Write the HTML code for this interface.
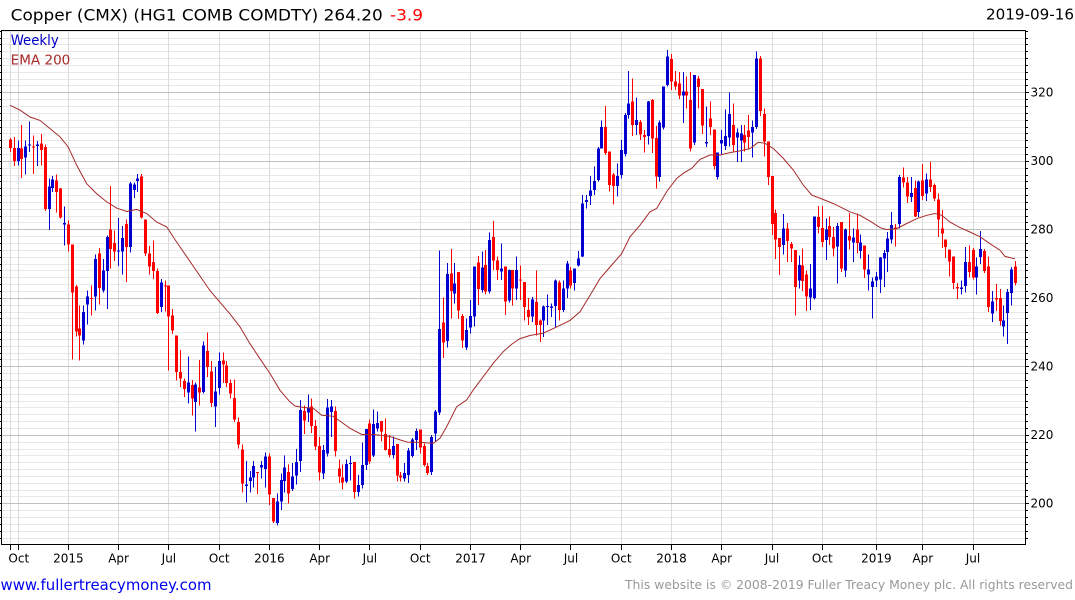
<!DOCTYPE html>
<html><head><meta charset="utf-8"><style>
html,body{margin:0;padding:0;background:#fff;width:1075px;height:600px;overflow:hidden}
svg{display:block}
text{font-family:"DejaVu Sans","Liberation Sans",sans-serif}
</style></head><body>
<svg id="c" width="1075" height="600" viewBox="0 0 1075 600" xmlns="http://www.w3.org/2000/svg">
<rect x="0" y="0" width="1075" height="600" fill="#fff"/>
<g id="grid" shape-rendering="crispEdges"></g>
<g id="cand" shape-rendering="crispEdges"></g>
<g id="ema"></g>
<g id="axes" shape-rendering="crispEdges"></g>
<text x="10.7" y="20.5" font-size="16" textLength="372" lengthAdjust="spacingAndGlyphs" fill="#000">Copper (CMX) (HG1 COMB COMDTY) 264.20</text>
<text x="390" y="20.5" font-size="16" textLength="33" lengthAdjust="spacingAndGlyphs" fill="#ff0000">-3.9</text>
<text x="986" y="19.5" font-size="15" textLength="88" lengthAdjust="spacingAndGlyphs" fill="#000">2019-09-16</text>
<text x="10.7" y="45" font-size="14" textLength="48" lengthAdjust="spacingAndGlyphs" fill="#0000cc">Weekly</text>
<text x="10.7" y="64.3" font-size="13.5" textLength="59.6" lengthAdjust="spacingAndGlyphs" fill="#a52a2a">EMA 200</text>
<g font-size="12" fill="#000">
<text x="1030.5" y="96.7">320</text>
<text x="1030.5" y="165.2">300</text>
<text x="1030.5" y="233.7">280</text>
<text x="1030.5" y="302.2">260</text>
<text x="1030.5" y="370.7">240</text>
<text x="1030.5" y="439.2">220</text>
<text x="1030.5" y="507.7">200</text>
</g>
<g font-size="12" fill="#000" text-anchor="middle">
<text x="18.8" y="562.7">Oct</text>
<text x="68.4" y="562.7">2015</text>
<text x="118.6" y="562.7">Apr</text>
<text x="168.9" y="562.7">Jul</text>
<text x="219.2" y="562.7">Oct</text>
<text x="269.4" y="562.7">2016</text>
<text x="319.7" y="562.7">Apr</text>
<text x="369.9" y="562.7">Jul</text>
<text x="420.2" y="562.7">Oct</text>
<text x="470.5" y="562.7">2017</text>
<text x="520.7" y="562.7">Apr</text>
<text x="571" y="562.7">Jul</text>
<text x="621.2" y="562.7">Oct</text>
<text x="671.5" y="562.7">2018</text>
<text x="721.7" y="562.7">Apr</text>
<text x="772" y="562.7">Jul</text>
<text x="822.3" y="562.7">Oct</text>
<text x="876.4" y="562.7">2019</text>
<text x="922.8" y="562.7">Apr</text>
<text x="973" y="562.7">Jul</text>
</g>
<text x="0.5" y="590" font-size="15" textLength="211" lengthAdjust="spacingAndGlyphs" fill="#0000ee">www.fullertreacymoney.com</text>
<text x="625" y="589" font-size="12" textLength="448" lengthAdjust="spacingAndGlyphs" fill="#999999">This website is © 2008-2019 Fuller Treacy Money plc. All rights reserved</text>
</svg>
<script>
(function(){
const D=[
[306.2,306.7,302.6,303.8],[303.8,307,298.5,300],[300,306,298.6,303.8],[303.6,310.4,295,300.5],[301,306,296,304.2],
[304.6,311.5,302.6,304.8],[304.2,307.4,296.1,304.0],[304.3,305.8,298.4,304.8],[305,307.8,298.7,303.1],[304,304.8,285.4,286],
[286,294.8,279.8,292.5],[292,295.6,290.9,294.5],[294.3,296,284.9,290.9],[291.9,292,283.1,283.4],[281.7,286.6,275.3,281.8],
[281.4,282.5,273.5,275.6],[275.6,275.6,242,261.6],[263.3,263.7,248.7,250.2],[251,257.8,241.7,249],[247.5,257.8,246.3,255.8],
[258,262.1,252.2,260.4],[260,263.6,254.8,259.6],[260.4,272.6,256.3,271.4],[273,274.5,258,262.9],[262.2,271.4,261.5,268],
[267.8,278.2,256.8,277.7],[279.9,292.6,268.5,274.3],[276,279.7,270.7,273.5],[273.6,283.3,269.3,273.8],[273.6,281,266.8,277.5],
[281.5,282.9,264.6,274.8],[274.8,293.8,273.2,293.3],[291.4,293.6,289.2,293.1],[294.1,296.1,290.9,294.8],[295.4,296.1,283.1,283.4],
[282.9,282.9,272.2,273],[273,275.1,266.8,269.1],[270.4,276.7,265.5,267.8],[267.8,268.5,255.3,255.6],[257.3,265.5,255.8,264.4],
[263.6,265,256,263.5],[263.6,263.6,238.8,254.6],[254.9,256.8,249.5,250.5],[249,249,235.9,238.3],[238.3,244.7,234,236.4],
[235.7,236.4,231,233.3],[232.3,242.9,229.1,235.2],[234.5,236,225.7,230.6],[229.6,235.2,220.9,234.7],[233.8,241.9,228.6,232.3],
[232.5,247.3,232,246.1],[244.4,249.8,236.9,239.8],[238.5,241.5,228.2,229.3],[228.2,239.8,222.3,232.7],[233.7,244,231.7,241.5],
[241.7,244,235.1,240.6],[240.3,241.5,234,235.1],[235.1,236.1,230.6,232],[230.8,236.1,223.8,224.5],[223.7,225,216,217.2],
[215.7,217.2,203.1,205.8],[205,212.3,200.2,205.5],[206.5,209.4,203.1,207.5],[207.5,212.3,204.6,210.9],[209.2,209.2,202.7,209],
[210.4,212.4,207.3,211.2],[210,214.9,204.6,213.6],[213.6,214.6,199.5,202.6],[201.5,201.5,194.2,194.7],[194.2,202.9,193.5,200.5],
[200.5,208.7,198.1,206.8],[206.5,213.9,203.1,210.4],[209.2,211.3,200,202.9],[204.2,211.7,203.6,207.8],[208.1,215.8,205.5,212],
[212.4,230.1,209.2,227.2],[227,228.6,220.2,224.1],[226.5,231.7,223.8,227.9],[228.2,230.6,220.6,222.5],[222.5,224.3,215.5,216.5],
[216.8,219.4,206.6,209],[208.7,217,207.1,215.5],[214.5,230.4,213.6,228],[226.7,230.1,219.4,228.2],[227,228.2,213.6,215.3],
[210.2,212.8,206,207.8],[207.5,211.4,204.1,206],[206.3,212.8,206,211.5],[211.5,213.8,206.6,211.8],[212,212,201.4,203.3],
[203.3,208.3,202,205.4],[205.4,217.7,204.4,211.2],[211.2,221.7,209.7,221.7],[223.3,224.5,211.5,212.2],[213.9,227.4,213.6,223.2],
[221.9,226.8,220.9,223.5],[224,224,218,220.9],[220.2,224.8,215.4,215.6],[215.9,220,213.4,214.1],[214.1,219.5,213.1,216.8],
[217.3,217.3,206.3,208.1],[208.1,209.2,206.3,207.5],[207.3,211.7,206.3,208.8],[208.3,216.1,206,215.4],[213.8,219,213.4,218.7],
[218.5,221.9,215.6,221.1],[221.6,221.6,214.6,216.3],[216.7,217.5,210.7,211.2],[210.9,211.7,208.3,208.8],[209.2,219.9,208.3,219.4],
[220.4,227.2,218,226.8],[226.5,273.8,225.8,250.9],[252.8,260.1,242.5,247],[247.4,270.2,245.5,266.9],[267.1,274.2,254,262],
[261.3,270.2,258.4,264.2],[267.5,267.5,253.8,256.3],[254.7,255.3,245.4,247.5],[245.5,254,244.8,250.6],[251.4,259.4,249.6,254.7],
[254.5,269.1,251.6,269.1],[270.3,272.2,257.9,262.5],[262.3,273.5,261.5,268.9],[269.6,274,261,261.8],[261.8,279,261.3,276.9],
[277.7,282.4,268.1,270.9],[270.9,272,265.2,268.1],[267.6,275.9,265.2,268.6],[269.1,269.1,255,258.9],[259.2,268.3,258.6,268.1],
[268.1,268.1,257.8,262.7],[262.7,272,259.4,268.1],[265.4,269.5,259.3,265.1],[264.6,264.6,253.4,257.3],[256.5,260,252,254.4],
[254.6,260.3,252.9,259.5],[258.8,268,249,252],[253.4,253.6,247.1,252],[253.4,257.8,248.6,257.5],[257.3,261,252,257.6],
[257,258.3,254.4,257.5],[257.6,265.3,251.3,265.1],[264.5,265.1,253.4,256.5],[256.5,265.1,255.9,262.7],[262.7,270.8,260,270],
[268,269,262.7,263.6],[264.3,268.5,262.2,268.5],[269.5,273.7,269.2,271.5],[272.1,290,271.9,287.5],[288,290,286.1,288.5],
[289.7,295.5,287.1,291.4],[291.4,298.3,290,294.1],[294.4,304.1,293.9,303.6],[303.6,311.7,303.6,309.8],[309.8,316,301.7,302.2],
[302.7,302.7,291,292.9],[296,296.5,287.3,292.7],[292.7,299.2,289.5,295.5],[295.8,306.1,294.9,303.1],[302,313.9,301.2,313.4],
[313.4,326.2,312.4,316.8],[317.3,324.1,307.3,310.4],[310.4,318.5,307.5,311.9],[311.4,311.9,306.1,307.7],[307.5,309,302.5,307],
[307.3,317.5,304.8,317.3],[317.8,318,302.2,306.5],[306.7,310.2,291.9,295.5],[295.3,311.7,293.9,311.2],[309.8,321.7,309.2,321.7],
[322.1,332.4,321.7,330.4],[329.7,331.2,320.7,323.1],[323.1,326.2,320.7,321.7],[322.6,326,318,319.1],[319.1,326,311,320.2],
[320.2,324.6,315.3,319],[317.8,326,302.7,303.6],[305.3,325.1,304.6,325.1],[324.1,324.8,315.3,321.5],[320.9,320.9,307.8,310.3],
[305,315.8,304.1,305.5],[312.4,317.3,307.5,309.8],[309.2,309.2,297.5,298.5],[295.3,302.4,294.6,302.4],[305.1,309,301.7,306.1],
[304.3,315,303.1,307.2],[306.8,319.9,304.1,313.7],[310.4,316.8,302.7,304.6],[306.8,309.5,299.7,308.3],[305.9,310.4,299.7,308],
[307.5,310.4,302.7,305.3],[308.8,313.4,303.3,307],[308.2,311.7,301,309.8],[309.8,331.9,309.2,329.9],[329.9,330.6,313.1,314.6],
[313.7,315.3,301.2,305.6],[305.6,305.6,292.9,295.3],[295.5,295.5,278.3,281.5],[284.8,285.8,271.3,277.1],[277.5,277.5,266.6,274.9],
[275.4,284.4,272.7,280.2],[280.2,281.9,270.5,276.6],[275.7,276.3,270.5,274.4],[273.9,273.9,254.9,263.2],[265,272.4,262.7,269.6],
[269.5,274.4,262,264.9],[266.8,268,256.2,260.4],[260.1,269.8,256.5,262.7],[260,283.8,259.5,283.8],[283.6,286.8,278.8,280.7],
[280.4,286.8,274.9,276.3],[276.8,283.2,271,279.9],[280.9,283.8,275.4,277.8],[277.8,280.7,272,274.4],[274.9,281.9,264.2,280.9],
[282.2,282.2,267.6,268.5],[268,280.2,266.1,279.9],[278.1,284.8,274.1,276.8],[276.1,280.2,270.5,277.6],[279.9,284.6,272.9,276],
[273.7,278.5,271.4,276.1],[275.3,275.3,265.8,268.2],[266.8,272.7,262.1,268.3],[263.1,266,254,264.8],[265.1,267.5,263.1,266.2],
[265.4,271.9,261.4,271.7],[271.4,273.9,263.1,273.1],[273.4,279.2,267.5,277.3],[277,285.1,275.8,281.2],[280.5,281.5,275,280.2],
[281.5,295.8,280.2,295.3],[295.1,298,292.2,293.6],[293.6,295.3,287.7,289.5],[289.5,295.3,288,290.6],[292.1,294.3,283.6,283.8],
[285.1,294.3,283.6,293.9],[294.3,299,288.5,289.7],[290.4,296.3,288.3,294.5],[294.5,299.7,290.9,292.4],[292.9,293.4,288.3,289],
[288.7,290.4,277.8,282.8],[280.2,285.6,274.6,278.7],[277,277,271.6,274.8],[274.1,274.1,266.2,270.6],[272.1,272.1,262.6,264.3],
[263.1,264.3,259.7,262.9],[262.5,265,261,263],[263.4,274.8,261.6,270.4],[270.4,275.3,266,267.5],[273.9,274.6,265.3,266],
[265.9,271.7,261,269.2],[271.9,279.5,269.8,274.3],[273.7,274.3,267.2,267.8],[269.2,272.1,255.8,257.3],[255.4,262,252.9,258.9],
[259.9,264.1,256.1,259.7],[259.9,262.6,251.9,253.2],[251.6,257.8,248.7,253.4],[255.5,262.6,246.5,261.7],[261.4,269,257.8,268.2],
[269.2,270.7,263.6,264.3]
];
const Y=v=>92.3+(320-v)*3.425;
const X=i=>10.4+3.866*i;
const r=v=>Math.round(v*10)/10;
let g='';
for(let v=190;v<=338;v+=2){ if(v%20===0) continue; const y=Math.round(Y(v))+0.5; if(y<31||y>544) continue; g+=`<line x1="2" x2="1025" y1="${y}" y2="${y}" stroke="#e8e8e8"/>`;}
const ticks=[0,2,15,28,41,54,67,80,93,106,119,132,145,158,171,184,197,210,224,236,249];
for(const i of ticks){const x=Math.floor(X(i))+0.5; g+=`<line x1="${x}" x2="${x}" y1="31" y2="544" stroke="#dadada"/>`;}
for(let v=200;v<=320;v+=20){const y=Math.round(Y(v))+0.5; g+=`<line x1="2" x2="1025" y1="${y}" y2="${y}" stroke="#c0c0c0"/>`;}
document.getElementById('grid').innerHTML=g;

let c='';
for(let i=0;i<D.length;i++){
  const [o,h,l,cl]=D[i]; const xi=Math.floor(X(i)); const col=cl>=o?'#0000d0':'#ff0000';
  const yh=Y(h), yl=Y(l);
  c+=`<rect x="${xi}" y="${r(yh)}" width="1" height="${r(Math.max(1,yl-yh))}" fill="${col}"/>`;
  const yt=Y(Math.max(o,cl)), yb=Y(Math.min(o,cl));
  c+=`<rect x="${xi-1}" y="${r(yt)}" width="3" height="${r(Math.max(1.2,yb-yt))}" fill="${col}"/>`;
}
document.getElementById('cand').innerHTML=c;

const E=[[10,316.2],[20,314.8],[30,312.8],[40,311.8],[50,309.4],[60,307],[68.3,304],[76.7,298.7],[86.7,293.3],[96.7,290.4],[106.7,288],[116.7,286.2],[126.7,285.2],[136.7,285.8],[146.7,284.6],[156.7,282.1],[166.7,280.7],[175,277],
[210,262.1],[220,258.7],[230,255.3],[240,251.5],[250,246.6],[260,242.2],[270,237.9],[280,233],[290,229.6],[295,228.4],[303.3,228],[313.3,227.7],[321.7,225.7],[333.3,225.4],[340,224],[350,221.9],[361.7,220.1],[373.3,220.1],[390,219.5],[400,218.5],[408.3,217.8],[420,217.8],[433.3,217.5],[440,219],[446.7,222.4],[456.7,228.2],[466.7,230.2],[473.3,233.1],[483.3,237],[493.3,240.9],[503.3,244.3],[512,246.5],
[520,248.1],[530,249],[543.3,249.7],[556.7,251.5],[570,253.4],[580,255.9],[590,260.7],[600,265.6],[610,269],[621.7,272.9],[630,277.8],[640,281.2],[650,285.1],[656.7,286.1],[666.7,291],[676.7,294.9],[684,296.5],
[691.7,297.8],[700,300.4],[710,301.7],[720,301.7],[730,302.4],[740,302.9],[750,303.6],[758.3,305.4],[765,305.1],[773.3,303.6],[783.3,300.7],[793.3,297.3],[803.3,292.9],[811.7,290],[823.3,288.7],[833.3,287.5],[843.3,286.1],[850,285.1],[860,284.1],[870,282.4],[880,280.5],[886.7,279.9],[896.7,280.2],[906.7,281.7],[916.7,283.1],[926.7,284.1],[935,284.6],[941.7,284.1],[950,282.1],[960,280.5],[970,279.2],[980,277.8],[990,275.8],[1000,273.9],[1005,272.1],[1015,271.4]];
document.getElementById('ema').innerHTML=`<polyline fill="none" stroke="#a52a2a" stroke-width="1" points="${E.map(p=>p[0]+','+r(Y(p[1]))).join(' ')}"/>`;

let a='';
a+=`<line x1="1" x2="1026" y1="30.5" y2="30.5" stroke="#000"/>`;
a+=`<line x1="1" x2="1026" y1="544.5" y2="544.5" stroke="#000"/>`;
a+=`<line x1="1.5" x2="1.5" y1="30" y2="545" stroke="#000"/>`;
a+=`<line x1="1025.5" x2="1025.5" y1="30" y2="545" stroke="#000"/>`;
for(let v=190;v<=338;v+=2){const y=Math.round(Y(v))+0.5; if(y<31||y>544) continue; const L=(v%20===0)?3:2;
  a+=`<line x1="1026" x2="${1026+L}" y1="${y}" y2="${y}" stroke="#000"/>`;
  a+=`<line x1="0" x2="2" y1="${y}" y2="${y}" stroke="#000"/>`;}
for(const i of ticks){const x=Math.floor(X(i))+0.5; a+=`<line x1="${x}" x2="${x}" y1="545" y2="550" stroke="#000"/>`;}
document.getElementById('axes').innerHTML=a;
})();
</script>
</body></html>
